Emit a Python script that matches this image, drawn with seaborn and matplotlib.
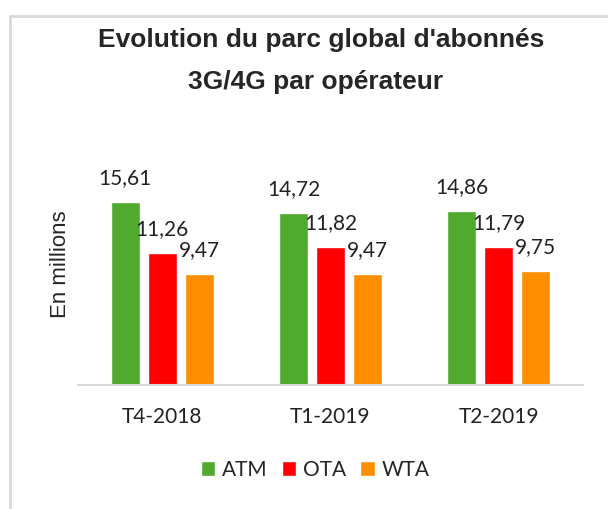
import pandas as pd
import matplotlib
matplotlib.use('Agg')
import matplotlib.pyplot as plt
from matplotlib.patches import Rectangle
import seaborn as sns

# Données (en millions d'abonnés)
periods = ["T4-2018", "T1-2019", "T2-2019"]
operators = ["ATM", "OTA", "WTA"]
atm = [15.61, 14.72, 14.86]
ota = [11.26, 11.82, 11.79]
wta = [9.47, 9.47, 9.75]
colors = ["#4FAA2D", "#FF0000", "#FF8F00"]

df = pd.DataFrame({
    "periode": periods * 3,
    "operateur": [op for op in operators for _ in periods],
    "valeur": atm + ota + wta,
})

sns.set_style("white")
plt.rcParams['font.family'] = ['Lato', 'DejaVu Sans']
arial = ['Liberation Sans', 'DejaVu Sans']

fig = plt.figure(figsize=(6.08, 5.09), dpi=100)
ax = fig.add_axes([78/608, 1-385/509, 505/608, 195/509])

sns.barplot(data=df, x="periode", y="valeur", hue="operateur", order=periods,
            hue_order=operators, palette=colors, width=0.66, gap=0.22,
            saturation=1, ax=ax)

for cont in ax.containers:
    ax.bar_label(cont, labels=[f"{b.get_height():.2f}".replace(".", ",") for b in cont],
                 padding=10, fontsize=15, color="#222222")

ax.set_xlim(-0.5, 2.5)
ax.set_ylim(0, 195/11.7)
ax.set_yticks([])
ax.set_xlabel("")
ax.set_ylabel("")
for s in ["top", "right", "left"]:
    ax.spines[s].set_visible(False)
ax.spines["bottom"].set_color("#d9d9d9")
ax.spines["bottom"].set_linewidth(1.5)
ax.tick_params(axis="x", length=0, pad=16, labelsize=15, labelcolor="#222222")

ax.legend(loc="center", bbox_to_anchor=(315/608, 1-470/509), bbox_transform=fig.transFigure,
          ncol=3, frameon=False, fontsize=15, handlelength=0.7, handleheight=0.7,
          handletextpad=0.3, columnspacing=0.7)

fig.text(321/608, 1-40/509, "Evolution du parc global d'abonnés", ha="center", va="center",
         fontsize=19, fontweight="bold", family=arial)
fig.text(316/608, 1-82/509, "3G/4G par opérateur", ha="center", va="center",
         fontsize=19, fontweight="bold", family=arial)
fig.text(60/608, 1-264/509, "En millions", rotation=90, ha="center", va="center",
         fontsize=16, family=arial)

# cadre gris clair
fig.add_artist(Rectangle((10/608, -0.1), 1.0, 1.1 - 16/509, transform=fig.transFigure,
                         fill=False, edgecolor="#d9d9d9", linewidth=2))

fig.savefig("out.png", dpi=100)
